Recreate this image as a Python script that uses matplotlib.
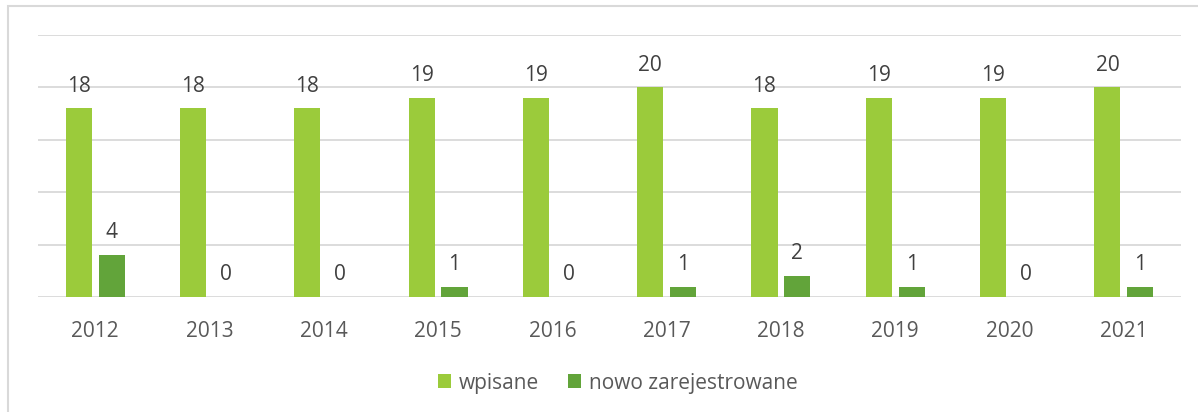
import matplotlib.pyplot as plt
import numpy as np
from matplotlib.patches import Rectangle

years = ["2012", "2013", "2014", "2015", "2016", "2017", "2018", "2019", "2020", "2021"]
wpisane = [18, 18, 18, 19, 19, 20, 18, 19, 19, 20]
nowo = [4, 0, 0, 1, 0, 1, 2, 1, 0, 1]
series_names = ["wpisane", "nowo zarejestrowane"]

c_light = "#9BCB3B"
c_dark = "#62A43A"
txt = "#404040"
txt2 = "#595959"
grid_c = "#D9D9D9"

plt.rcParams['font.family'] = ['Open Sans', 'DejaVu Sans']

W, H = 1198, 412
fig = plt.figure(figsize=(W / 100, H / 100), dpi=100)

# chart-area border
fig.patches.append(Rectangle((8 / W, -0.1), 1.2, 1 - 6 / H + 0.1, transform=fig.transFigure,
                             fill=False, edgecolor=grid_c, linewidth=1.5))

ax = fig.add_axes([38 / W, 1 - 297 / H, (1181 - 38) / W, (297 - 35) / H])
x = np.arange(len(years))
bw = 0.228
gap = 0.06
off = (bw + gap) / 2
b1 = ax.bar(x - off, wpisane, bw, color=c_light, label=series_names[0])
b2 = ax.bar(x + off, nowo, bw, color=c_dark, label=series_names[1])

ax.set_xlim(-0.5, len(years) - 0.5)
ax.set_ylim(0, 25)
ax.set_yticks([0, 5, 10, 15, 20, 25])
ax.yaxis.grid(True, color=grid_c, linewidth=1.3)
ax.set_axisbelow(True)
ax.tick_params(axis='y', left=False, labelleft=False)
ax.tick_params(axis='x', bottom=False, labelsize=15, labelcolor=txt2, pad=14)
ax.set_xticks(x)
ax.set_xticklabels(years)
for s in ax.spines.values():
    s.set_visible(False)

for bars in (b1, b2):
    ax.bar_label(bars, labels=[str(v) for v in bars.datavalues], padding=8.5,
                 fontsize=15, color=txt)

leg = fig.legend(handles=[b1, b2], loc='center', bbox_to_anchor=(618 / W, 1 - 383 / H),
                 ncol=2, frameon=False, fontsize=15, handlelength=0.63, handleheight=0.63,
                 handletextpad=0.38, columnspacing=1.4)
for t in leg.get_texts():
    t.set_color(txt2)

fig.savefig("out.png", dpi=100)
